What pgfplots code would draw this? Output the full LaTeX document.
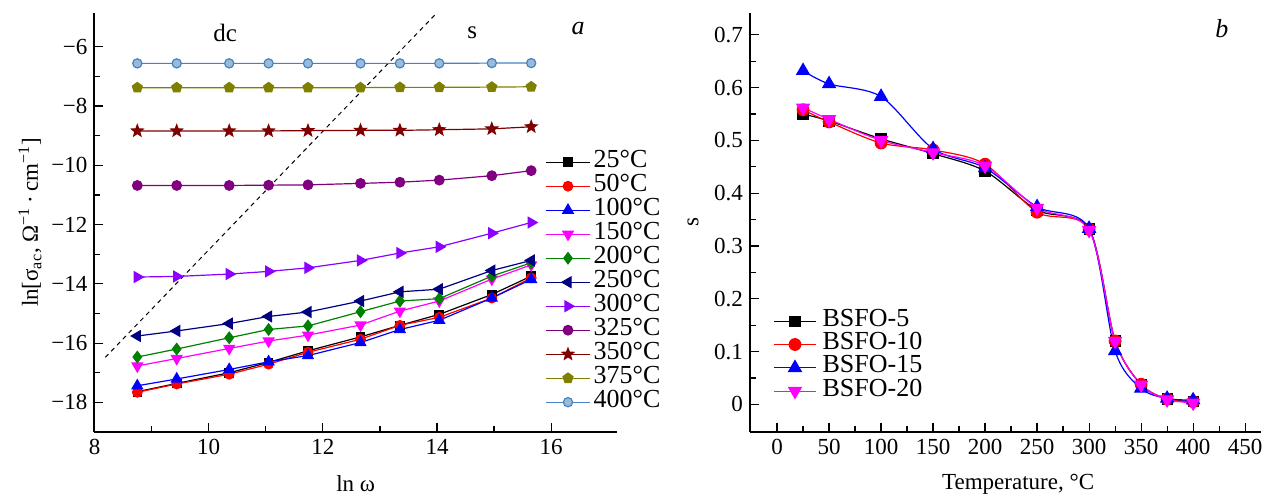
\documentclass[border=0pt]{standalone}
\usepackage{fontspec}
\setmainfont{Liberation Serif}
\usepackage{pgfplots}
\pgfplotsset{compat=1.18}
\usetikzlibrary{plotmarks}
\definecolor{c300}{RGB}{140,0,255}
\definecolor{c325}{RGB}{128,0,128}
\definecolor{c350}{RGB}{128,0,0}
\definecolor{c375}{RGB}{128,128,0}
\definecolor{c400}{RGB}{70,130,190}
\definecolor{cnavy}{RGB}{0,0,128}
\definecolor{cgreen}{RGB}{0,128,0}
\definecolor{cmag}{RGB}{255,0,255}
\pgfdeclareplotmark{fstar}{%
  \pgfpathmoveto{\pgfpointpolar{90}{\pgfplotmarksize}}%
  \pgfpathlineto{\pgfpointpolar{126}{0.42\pgfplotmarksize}}%
  \pgfpathlineto{\pgfpointpolar{162}{\pgfplotmarksize}}%
  \pgfpathlineto{\pgfpointpolar{198}{0.42\pgfplotmarksize}}%
  \pgfpathlineto{\pgfpointpolar{234}{\pgfplotmarksize}}%
  \pgfpathlineto{\pgfpointpolar{270}{0.42\pgfplotmarksize}}%
  \pgfpathlineto{\pgfpointpolar{306}{\pgfplotmarksize}}%
  \pgfpathlineto{\pgfpointpolar{342}{0.42\pgfplotmarksize}}%
  \pgfpathlineto{\pgfpointpolar{18}{\pgfplotmarksize}}%
  \pgfpathlineto{\pgfpointpolar{54}{0.42\pgfplotmarksize}}%
  \pgfpathclose
  \pgfusepathqfillstroke}
\pgfplotsset{
  myaxis/.style={scale only axis, anchor=south west,
    axis x line*=bottom, axis y line*=left,
    axis line style={line width=1pt,-},
    tick align=inside, major tick length=4.5pt, minor tick length=3pt,
    every tick/.style={black, line width=0.6pt},
    tick label style={font=\fontsize{11.5}{13.5}\selectfont},
    label style={font=\fontsize{11.5}{13.5}\selectfont},
    minor x tick num=1, minor y tick num=1,
    every axis plot/.append style={line width=0.6pt},
    legend cell align=left,
  },
  leftlegend/.style={legend image code/.code={\draw[mark repeat=2,mark phase=2,##1] plot coordinates {(0pt,0pt) (11pt,0pt) (22pt,0pt)};}},
  rightlegend/.style={legend image code/.code={\draw[mark repeat=2,mark phase=2,##1] plot coordinates {(0pt,0pt) (10.5pt,0pt) (21pt,0pt)};}},
}
\begin{document}
\begin{tikzpicture}
\useasboundingbox (0pt,0pt) rectangle (636pt,247.5pt);
% ---------------- panel a ----------------
\begin{axis}[myaxis, at={(47.25pt,31.5pt)}, width=261.15pt, height=209.65pt,
  xmin=8, xmax=17.15, ymin=-19, ymax=-4.85,
  xtick={8,10,12,14,16}, xticklabels={8,10,12,14,16},
  ytick={-18,-16,-14,-12,-10,-8,-6},
  yticklabels={−18,−16,−14,−12,−10,−8,−6},
  xlabel={ln ω},
  ylabel={ln[σ\textsubscript{ac}, Ω\textsuperscript{−1}\,·\,cm\textsuperscript{−1}]},
  xlabel style={at={(axis description cs:0.5,-0.124)},anchor=center},
  ylabel style={at={(axis description cs:-0.1235,0.5)},anchor=center},
  legend style={at={(axis description cs:0.8625,0.673)}, anchor=north west,
    draw=none, fill=none, inner sep=0pt, row sep=0pt,
    font=\fontsize{13}{15}\selectfont,
    nodes={inner xsep=1.5pt, inner ysep=0pt, text height=8.6pt, text depth=3.4pt}},
]
\addplot[black, line width=0.5pt, dash pattern=on 2.2pt off 2pt, forget plot] coordinates {(8.19,-16.48) (13.96,-4.93)};
\addplot[black, mark=square*, mark size=2.1pt, leftlegend] coordinates {
(8.75,-17.64) (9.44,-17.36) (10.36,-17.00) (11.05,-16.65) (11.74,-16.26) (12.66,-15.79) (13.35,-15.40) (14.04,-15.03) (14.96,-14.36) (15.65,-13.74)};
\addplot[red, mark=*, mark size=2.4pt, leftlegend] coordinates {
(8.75,-17.66) (9.44,-17.38) (10.36,-17.05) (11.05,-16.71) (11.74,-16.31) (12.66,-15.87) (13.35,-15.40) (14.04,-15.13) (14.96,-14.48) (15.65,-13.80)};
\addplot[blue, mark=triangle*, mark size=3pt, leftlegend] coordinates {
(8.75,-17.44) (9.44,-17.21) (10.36,-16.89) (11.05,-16.63) (11.74,-16.42) (12.66,-15.98) (13.35,-15.54) (14.04,-15.23) (14.96,-14.48) (15.65,-13.85)};
\addplot[cmag, mark=triangle*, mark size=3pt, mark options={rotate=180}, leftlegend] coordinates {
(8.75,-16.77) (9.44,-16.52) (10.36,-16.18) (11.05,-15.93) (11.74,-15.73) (12.66,-15.39) (13.35,-14.92) (14.04,-14.58) (14.96,-13.84) (15.65,-13.36)};
\addplot[cgreen, mark=diamond*, mark size=2.8pt, leftlegend] coordinates {
(8.75,-16.47) (9.44,-16.20) (10.36,-15.82) (11.05,-15.54) (11.74,-15.42) (12.66,-14.94) (13.35,-14.58) (14.04,-14.50) (14.96,-13.74) (15.65,-13.29)};
\addplot[cnavy, mark=triangle*, mark size=3pt, mark options={rotate=90}, leftlegend] coordinates {
(8.75,-15.76) (9.44,-15.59) (10.36,-15.34) (11.05,-15.10) (11.74,-14.95) (12.66,-14.58) (13.35,-14.27) (14.04,-14.18) (14.96,-13.55) (15.65,-13.21)};
\addplot[c300, mark=triangle*, mark size=3pt, mark options={rotate=-90}, leftlegend] coordinates {
(8.75,-13.77) (9.44,-13.75) (10.36,-13.67) (11.05,-13.58) (11.74,-13.46) (12.66,-13.21) (13.35,-12.96) (14.04,-12.75) (14.96,-12.29) (15.65,-11.93)};
\addplot[c325, mark=*, mark size=2.4pt, leftlegend] coordinates {
(8.75,-10.68) (9.44,-10.68) (10.36,-10.68) (11.05,-10.67) (11.74,-10.66) (12.66,-10.61) (13.35,-10.57) (14.04,-10.50) (14.96,-10.35) (15.65,-10.18)};
\addplot[c350, mark=fstar, mark size=3pt, leftlegend] coordinates {
(8.75,-8.84) (9.44,-8.84) (10.36,-8.84) (11.05,-8.84) (11.74,-8.83) (12.66,-8.82) (13.35,-8.82) (14.04,-8.80) (14.96,-8.77) (15.65,-8.70)};
\addplot[c375, mark=pentagon*, mark size=2.6pt, leftlegend] coordinates {
(8.75,-7.38) (9.44,-7.38) (10.36,-7.38) (11.05,-7.38) (11.74,-7.38) (12.66,-7.38) (13.35,-7.37) (14.04,-7.37) (14.96,-7.36) (15.65,-7.35)};
\addplot[c400, mark=*, mark size=2.3pt, mark options={fill=c400!55!white, draw=c400}, leftlegend] coordinates {
(8.75,-6.56) (9.44,-6.56) (10.36,-6.56) (11.05,-6.56) (11.74,-6.56) (12.66,-6.56) (13.35,-6.56) (14.04,-6.56) (14.96,-6.55) (15.65,-6.55)};
\legend{25°C,50°C,100°C,150°C,200°C,250°C,300°C,325°C,350°C,375°C,400°C}
\node[font=\fontsize{12.5}{14}\selectfont] at (axis description cs:0.250,0.952) {dc};
\node[font=\fontsize{12.5}{14}\selectfont] at (axis description cs:0.723,0.952) {s};
\node[font=\fontsize{13}{15}\selectfont\itshape] at (axis description cs:0.926,0.963) {a};
\end{axis}
% ---------------- panel b ----------------
\begin{axis}[myaxis, at={(375pt,31.5pt)}, width=255.35pt, height=209.65pt,
  xmin=-26, xmax=465, ymin=-0.0525, ymax=0.742,
  xtick={0,50,100,150,200,250,300,350,400,450},
  xticklabels={0,50,100,150,200,250,300,350,400,450},
  ytick={0,0.1,0.2,0.3,0.4,0.5,0.6,0.7},
  yticklabels={0,0.1,0.2,0.3,0.4,0.5,0.6,0.7},
  xlabel={Temperature, °C},
  ylabel={s},
  xlabel style={at={(axis description cs:0.525,-0.124)},anchor=center},
  ylabel style={at={(axis description cs:-0.1116,0.5)},anchor=center},
  legend style={at={(axis description cs:0.045,0.293)}, anchor=north west,
    draw=none, fill=none, inner sep=0pt, row sep=0pt,
    font=\fontsize{13}{15}\selectfont,
    nodes={inner xsep=3pt, inner ysep=0pt, text height=8.4pt, text depth=3.25pt}},
]
\addplot[black, mark=square*, mark size=2.5pt, smooth, rightlegend] coordinates {
(25,0.550) (50,0.537) (100,0.503) (150,0.475) (200,0.442) (250,0.368) (300,0.332) (325,0.120) (350,0.037) (375,0.010) (400,0.006)};
\addplot[red, mark=*, mark size=2.9pt, smooth, rightlegend] coordinates {
(25,0.558) (50,0.535) (100,0.495) (150,0.482) (200,0.455) (250,0.364) (300,0.332) (325,0.120) (350,0.038) (375,0.010) (400,0.005)};
\addplot[blue, mark=triangle*, mark size=3.6pt, smooth, rightlegend] coordinates {
(25,0.632) (50,0.607) (100,0.583) (150,0.484) (200,0.448) (250,0.374) (300,0.333) (325,0.101) (350,0.030) (375,0.011) (400,0.008)};
\addplot[cmag, mark=triangle*, mark size=3.6pt, mark options={rotate=180}, smooth, rightlegend] coordinates {
(25,0.562) (50,0.540) (100,0.500) (150,0.477) (200,0.452) (250,0.372) (300,0.330) (325,0.120) (350,0.037) (375,0.009) (400,0.003)};
\legend{BSFO-5,BSFO-10,BSFO-15,BSFO-20}
\node[font=\fontsize{13}{15}\selectfont\itshape] at (axis description cs:0.924,0.963) {b};
\end{axis}
\end{tikzpicture}
\end{document}
